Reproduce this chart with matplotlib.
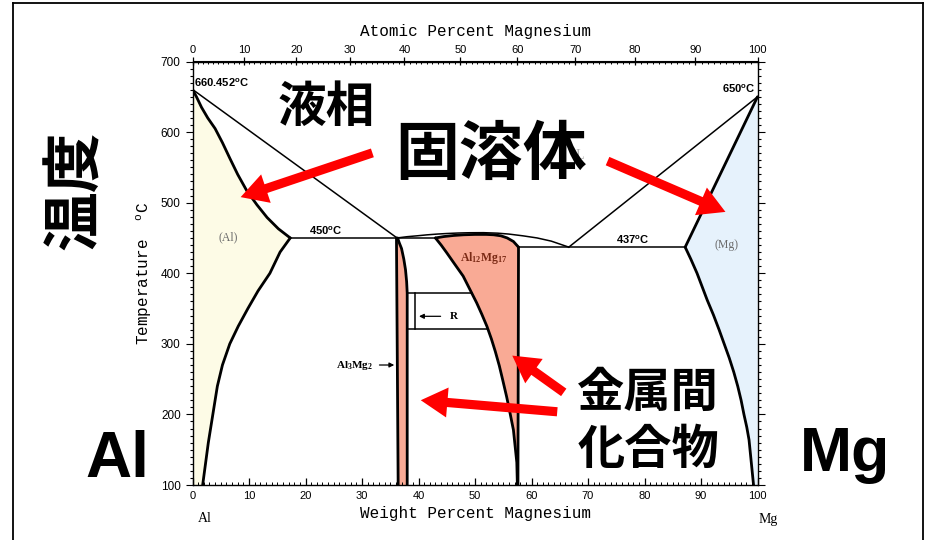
import numpy as np
import matplotlib
matplotlib.use("Agg")
import matplotlib.pyplot as plt
from matplotlib.patches import FancyArrowPatch
from matplotlib.lines import Line2D
from matplotlib.ticker import MultipleLocator

plt.rcParams["mathtext.default"] = "regular"

# ---- Al-Mg phase boundaries (wt% Mg, temperature in degC) ----
T_AL_MELT = 660.452
T_MG_MELT = 650.0
T_EUT_AL = 450.0
T_EUT_MG = 437.0

liq_al_wt = [0.0, 36.2]
liq_al_T = [660.452, 450.0]

sol_al_wt = [0.0, 0.7, 1.6, 2.7, 4.0, 5.3, 6.6, 8.0, 9.6, 11.4, 13.2, 15.2, 17.3]
sol_al_T = [660.452, 650, 635, 620, 605, 585, 563, 540, 517, 497, 479, 463, 450]

solv_al_wt = [17.3, 15.5, 13.7, 11.6, 9.8, 8.1, 6.6, 5.3, 4.4, 3.6, 2.8, 2.3, 1.8]
solv_al_T = [450, 430, 400, 375, 350, 325, 300, 270, 240, 200, 160, 130, 100]

beta_left_wt = [36.1, 36.4]
beta_left_T = [450, 100]
beta_right_wt = [36.3, 36.6, 37.0, 37.4, 37.7, 37.9, 38.0, 38.0]
beta_right_T = [450, 443, 435, 420, 405, 388, 372, 100]

liq_mid_wt = [36.2, 38.0, 39.7, 41.5, 43.3, 45.0, 47.0, 49.0, 51.5, 54.0, 56.0, 58.5,
              61.0, 63.5, 66.6]
liq_mid_T = [450, 451.8, 453, 454.4, 455.5, 456.3, 457, 457.4, 457.5, 456.8, 455.5,
             453, 450, 445.5, 437]

gam_top_wt = [43.0, 44.5, 46.2, 48.0, 50.0, 52.0, 53.3, 54.6, 55.7, 56.8, 57.7]
gam_top_T = [450, 452, 453.5, 454.5, 455, 455, 454.5, 453, 450, 445, 437]
gam_left_wt = [43.0, 44.0, 45.0, 46.4, 47.9, 49.1, 50.3, 51.2, 52.1, 52.9, 53.6, 54.3,
               54.9, 55.6, 56.2, 56.8, 57.1, 57.4, 57.5]
gam_left_T = [450, 440, 429, 413, 396, 377, 358, 342, 325, 307, 289, 269,
              249, 225, 202, 178, 155, 132, 100]
gam_right_wt = [57.7, 57.6]
gam_right_T = [437, 100]

liq_mg_wt = [66.6, 100.0]
liq_mg_T = [437, 650]
sol_mg_wt = [87.2, 100.0]
sol_mg_T = [437, 650]
solv_mg_wt = [87.2, 88.2, 89.3, 90.2, 91.1, 92.2, 93.2, 94.1, 95.0, 95.8, 96.5, 97.1,
              97.6, 98.1, 98.5, 98.9, 99.3]
solv_mg_T = [437, 420, 400, 381, 362, 341, 320, 300, 280, 260, 240, 220,
             200, 182, 164, 132, 100]

R_top_T = 372
R_bot_T = 321
R_inner_wt = 39.4

wt_ticks = np.arange(0, 101, 10)
at_ticks = np.arange(0, 101, 10)
T_ticks = np.arange(100, 701, 100)

M_AL, M_MG = 26.982, 24.305


def wt_to_at(w):
    w = np.clip(np.asarray(w, dtype=float), 0, 100)
    nm = w / M_MG
    na = (100 - w) / M_AL
    return 100 * nm / (nm + na)


def at_to_wt(a):
    a = np.clip(np.asarray(a, dtype=float), 0, 100)
    mm = a * M_MG
    ma = (100 - a) * M_AL
    return 100 * mm / (mm + ma)


fig = plt.figure(figsize=(9.32, 5.40), dpi=100)
ax = fig.add_axes([192.5 / 932, 1 - 485 / 540, 565 / 932, (485 - 61.5) / 540])
ax.set_xlim(0, 100)
ax.set_ylim(100, 700)

C_AL = "#fdfbe6"
C_MG = "#e6f2fc"
C_PINK = "#f9aa95"
THICK = 2.0
THIN = 1.1

# (Al) solid solution
al_x = list(sol_al_wt) + list(solv_al_wt[1:]) + [0.0]
al_y = list(sol_al_T) + list(solv_al_T[1:]) + [100.0]
ax.fill(al_x, al_y, color=C_AL, lw=0)

# (Mg) solid solution
mg_x = list(sol_mg_wt) + [100.0] + list(solv_mg_wt[::-1])
mg_y = list(sol_mg_T) + [100.0] + list(solv_mg_T[::-1])
ax.fill(mg_x, mg_y, color=C_MG, lw=0)

# beta (Al3Mg2)
b_x = list(beta_left_wt) + list(beta_right_wt[::-1])
b_y = list(beta_left_T) + list(beta_right_T[::-1])
ax.fill(b_x, b_y, color=C_PINK, lw=0)

# gamma (Al12Mg17)
g_x = list(gam_top_wt) + list(gam_right_wt[1:]) + list(gam_left_wt[::-1])
g_y = list(gam_top_T) + list(gam_right_T[1:]) + list(gam_left_T[::-1])
ax.fill(g_x, g_y, color=C_PINK, lw=0)

# liquidus and invariant lines (thin)
ax.plot(liq_al_wt, liq_al_T, color="k", lw=THIN)
ax.plot(liq_mid_wt, liq_mid_T, color="k", lw=THIN)
ax.plot(liq_mg_wt, liq_mg_T, color="k", lw=THIN)
ax.plot([sol_al_wt[-1], gam_left_wt[0]], [T_EUT_AL, T_EUT_AL], color="k", lw=THIN)
ax.plot([gam_right_wt[0], sol_mg_wt[0]], [T_EUT_MG, T_EUT_MG], color="k", lw=THIN)

# solid phase boundaries (thick)
for xs, ys in [(sol_al_wt, sol_al_T), (solv_al_wt, solv_al_T),
               (beta_left_wt, beta_left_T), (beta_right_wt, beta_right_T),
               (gam_top_wt, gam_top_T), (gam_left_wt, gam_left_T),
               (gam_right_wt, gam_right_T), (sol_mg_wt, sol_mg_T),
               (solv_mg_wt, solv_mg_T)]:
    ax.plot(xs, ys, color="k", lw=THICK, solid_capstyle="round", solid_joinstyle="round")

# R phase box
gl_T_inc = np.array(gam_left_T[::-1])
gl_w_inc = np.array(gam_left_wt[::-1])
r_top_right = np.interp(R_top_T, gl_T_inc, gl_w_inc)
r_bot_right = np.interp(R_bot_T, gl_T_inc, gl_w_inc)
ax.plot([beta_right_wt[-1], r_top_right], [R_top_T, R_top_T], color="k", lw=THIN)
ax.plot([beta_right_wt[-1], r_bot_right], [R_bot_T, R_bot_T], color="k", lw=THIN)
ax.plot([R_inner_wt, R_inner_wt], [R_top_T, R_bot_T], color="k", lw=THIN)
ax.annotate("", xy=(R_inner_wt + 0.2, 339), xytext=(44.4, 339),
            arrowprops=dict(arrowstyle="-|>", color="k", lw=0.9, mutation_scale=7))
ax.text(45.6, 339, "R", fontsize=8, fontweight="bold", family="Liberation Serif",
        va="center", ha="left")

ax.annotate("", xy=(36.2, 270), xytext=(32.6, 270),
            arrowprops=dict(arrowstyle="-|>", color="k", lw=0.9, mutation_scale=7))
ax.text(31.9, 270, r"Al$_3$Mg$_2$", fontsize=8, fontweight="bold",
        family="Liberation Serif", va="center", ha="right")

# phase labels
lab = dict(family="Liberation Sans", fontweight="bold", fontsize=8)
ax.text(0.2, 660.5, r"660.452$^o$C", va="bottom", ha="left", **lab)
ax.text(99.7, 652, r"650$^o$C", va="bottom", ha="right", **lab)
ax.text(23.5, 451, r"450$^o$C", va="bottom", ha="center", **lab)
ax.text(78.0, 438, r"437$^o$C", va="bottom", ha="center", **lab)
ax.text(6.3, 451.5, "(Al)", fontsize=8.5, family="Liberation Serif", color="#6a6a6a",
        va="center", ha="center")
ax.text(94.5, 440, "(Mg)", fontsize=8.5, family="Liberation Serif", color="#6a6a6a",
        va="center", ha="center")
ax.text(51.6, 422, r"Al$_{12}$Mg$_{17}$", fontsize=8.5, fontweight="bold",
        family="Liberation Serif", color="#7b2a15", va="center", ha="center")
ax.text(68.6, 567, "L", fontsize=10, family="Liberation Serif", color="#b0b0b0",
        va="center", ha="center")

# axes, ticks
for s in ax.spines.values():
    s.set_linewidth(1.0)
ax.set_xticks(wt_ticks)
ax.xaxis.set_minor_locator(MultipleLocator(1))
ax.set_yticks(T_ticks)
ax.yaxis.set_minor_locator(MultipleLocator(10))
ax.tick_params(axis="x", which="major", direction="in", length=5, width=0.9,
               labelsize=8, pad=4)
ax.tick_params(axis="x", which="minor", direction="in", length=2.5, width=0.7)
ax.tick_params(axis="y", which="both", direction="out", right=True, width=0.8)
ax.tick_params(axis="y", which="major", length=5, labelsize=8.5)
ax.tick_params(axis="y", which="minor", length=2.5)
for t in ax.get_xticklabels() + ax.get_yticklabels():
    t.set_family("Liberation Sans")

sec = ax.secondary_xaxis("top", functions=(wt_to_at, at_to_wt))
sec.set_xticks(at_ticks)
sec.xaxis.set_minor_locator(MultipleLocator(1))
sec.tick_params(axis="x", which="major", direction="inout", length=6, width=0.9,
                labelsize=8, pad=2)
sec.tick_params(axis="x", which="minor", direction="in", length=2.5, width=0.7)
for t in sec.get_xticklabels():
    t.set_family("Liberation Sans")

mono = dict(family="Liberation Mono", fontsize=11.5)
sec.set_xlabel("Atomic Percent Magnesium", labelpad=6, **mono)
ax.set_xlabel("Weight Percent Magnesium", labelpad=4, **mono)
ax.set_ylabel("Temperature  $^o$C", labelpad=5, **mono)

fig.text(205 / 932, 1 - 519 / 540, "Al", family="Liberation Serif", fontsize=10,
         ha="center", va="center")
fig.text(768 / 932, 1 - 519 / 540, "Mg", family="Liberation Serif", fontsize=10,
         ha="center", va="center")

# large annotations
cjk = dict(family=["Noto Sans CJK JP", "DejaVu Sans"], fontweight="bold", color="k",
           ha="center", va="center")


def fpx(x, y):
    return x / 932, 1 - y / 540


fig.text(*fpx(326, 107), "液相", fontsize=35, **cjk)
fig.text(*fpx(491, 155), "固溶体", fontsize=46, **cjk)
fig.text(*fpx(648, 393), "金属間", fontsize=34, **cjk)
fig.text(*fpx(648, 450), "化合物", fontsize=34, **cjk)
fig.text(*fpx(76, 190), "温度", fontsize=43, rotation=90, **cjk)
fig.text(*fpx(117, 460), "Al", family="Liberation Sans", fontweight="bold",
         fontsize=46, ha="center", va="center")
fig.text(*fpx(845, 455), "Mg", family="Liberation Sans", fontweight="bold",
         fontsize=45, ha="center", va="center")

# red pointer arrows (figure pixel coordinates)
arrows = [((375, 152), (238, 198)),
          ((605, 160), (728, 213)),
          ((566, 394), (510, 354)),
          ((560, 412), (418, 400))]
for (x0, y0), (x1, y1) in arrows:
    p = FancyArrowPatch(fpx(x0, y0), fpx(x1, y1), transform=fig.transFigure,
                        arrowstyle="simple,head_length=1.6,head_width=1.8,tail_width=0.55",
                        mutation_scale=12, color="#ff0000", lw=0)
    fig.add_artist(p)

# frame
for xs, ys in [([13, 13], [3, 540]), ([13, 923], [3, 3]), ([923, 923], [3, 540])]:
    fig.add_artist(Line2D([x / 932 for x in xs], [1 - y / 540 for y in ys],
                          transform=fig.transFigure, color="k", lw=1.3))

fig.savefig("out.png", dpi=100)
